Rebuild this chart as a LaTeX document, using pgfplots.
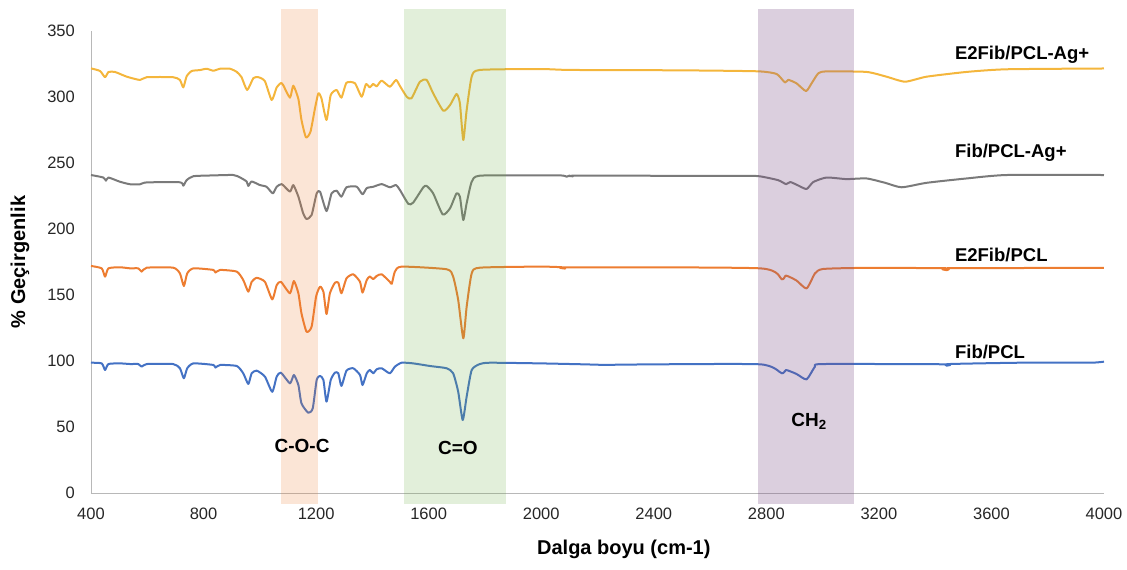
\documentclass[border=0pt]{standalone}
\usepackage{fontspec}
\setmainfont{Liberation Sans}
\usepackage{pgfplots}
\pgfplotsset{compat=1.18}
\definecolor{cBlue}{HTML}{4472C4}
\definecolor{cOrange}{HTML}{ED7D31}
\definecolor{cGray}{HTML}{7A7A7A}
\definecolor{cGold}{HTML}{F4B63C}
\definecolor{bOrange}{HTML}{ED7D31}
\definecolor{bGreen}{HTML}{70AD47}
\definecolor{bPurple}{HTML}{7B4F86}

\begin{document}
\begin{tikzpicture}
\begin{axis}[
  name=ax,
  scale only axis, width=1013bp, height=462bp,
  xmin=400, xmax=4000, ymin=0, ymax=350,
  clip=false,
  axis x line*=bottom, axis y line*=left,
  axis line style={draw=black!28, line width=0.8bp},
  major tick length=0pt,
  xtick={400,800,...,4000}, ytick={0,50,...,350},
  /pgf/number format/assume math mode=true,
  /pgf/number format/1000 sep={},
  tick label style={font=\fontsize{16.5bp}{20bp}\selectfont, text=black!85},
  xticklabel style={inner sep=0pt, yshift=-15bp},
  yticklabel style={inner sep=0pt, xshift=-16bp},
  xlabel={Dalga boyu (cm-1)},
  ylabel={\% Geçirgenlik},
  every axis x label/.style={at={(axis description cs:0.526,-0.123)}, anchor=center,
    font=\fontsize{20bp}{24bp}\selectfont\bfseries},
  every axis y label/.style={at={(axis description cs:-0.070,0.5)}, rotate=90, anchor=center,
    font=\fontsize{20bp}{24bp}\selectfont\bfseries},
  every axis plot/.append style={line width=2bp, line join=round, smooth, tension=0.35},
]
% Fib/PCL
\addplot[cBlue] coordinates {
(400,98.7)(438,98.2)(450,93.2)(462,97.7)(503,98.2)(539,97.7)(568,97.7)(580,95.7)(598,97.7)(692,97.7)(716,94.5)(730,86.9)(742,94.5)(764,98.2)(835,97)(842,95)(859,97)(918,96.2)(941,90.7)(959,82.6)(971,90.7)(989,92.7)(1018,88.2)(1044,76.7)(1060,88.2)(1075,91.2)(1107,83.1)(1121,89.4)(1137,81.8)(1148,67.9)(1172,60.8)(1188,64.1)(1202,85.6)(1214,88.7)(1226,85.6)(1237,69.2)(1252,85.6)(1267,91.2)(1279,90.7)(1290,81.1)(1308,92.7)(1332,94.5)(1356,89.4)(1365,81.8)(1380,90.7)(1391,93.2)(1403,90.7)(1415,93.7)(1433,94.5)(1462,90.7)(1480,95.7)(1504,98.7)(1545,98.2)(1605,96.2)(1664,94.5)(1687,90.7)(1705,76.7)(1721,55.3)(1735,73)(1753,93.2)(1782,97.7)(1818,98.7)(1996,98.2)(2147,97.5)(2236,97)(2307,97.3)(2777,97.5)(2855,90.7)(2870,93.2)(2907,90.2)(2943,86.1)(2973,95.7)(3001,97.7)(3435,97.5)(3441,96.5)(3450,97.7)(3701,98.7)(3950,98.7)(4000,99.5)};
% E2Fib/PCL
\addplot[cOrange] coordinates {
(400,172)(438,170.2)(450,163.9)(462,170.2)(503,171)(539,170.2)(568,170.2)(580,167.7)(598,170.7)(692,170.7)(716,166.4)(730,156.8)(742,166.4)(764,170.2)(835,169)(842,167)(859,169)(918,167.7)(941,161.4)(959,152.5)(971,160)(989,163)(1018,160)(1044,146.7)(1060,157.5)(1075,160)(1107,151.3)(1121,160.6)(1137,151.3)(1148,136.1)(1166,122.2)(1184,126)(1200,148.9)(1214,156.3)(1226,152.5)(1237,135.6)(1249,151.3)(1267,159.3)(1279,159.3)(1290,151.3)(1308,162.6)(1332,165.7)(1356,160)(1365,151.8)(1380,161.4)(1391,164)(1403,162)(1415,164.4)(1433,165.7)(1462,160)(1469,158.5)(1480,167.7)(1504,171.5)(1664,169.5)(1687,163.9)(1705,146.2)(1723,117.2)(1735,141.1)(1753,166.4)(1782,170.7)(1996,171.5)(2075,171)(2085,170)(2100,171)(2777,170.2)(2855,161.9)(2870,164.7)(2907,161)(2943,155)(2973,166.4)(3001,169.7)(3133,170.5)(3435,170.3)(3441,168.8)(3450,170.3)(4000,170.5)};
% Fib/PCL-Ag+
\addplot[cGray] coordinates {
(400,240.9)(444,239)(453,236.6)(462,239)(503,235.8)(539,233.9)(574,233.9)(598,235.3)(716,235.4)(728,232.8)(740,237)(764,240)(835,240.6)(906,240.9)(930,239)(953,236)(959,232.6)(971,236)(1000,233.3)(1024,232)(1046,227)(1060,232)(1078,234)(1107,228.3)(1119,233.3)(1137,224.5)(1154,211.9)(1166,207.6)(1184,210.6)(1202,227)(1214,228.3)(1237,213.6)(1255,227)(1273,229)(1290,224.5)(1308,231.6)(1344,232.1)(1365,226.3)(1380,231)(1403,232)(1433,234)(1462,231.6)(1484,233.3)(1498,229.5)(1528,219)(1545,220)(1581,231.6)(1593,232.6)(1616,227)(1650,211)(1676,215.7)(1699,227)(1711,224.5)(1723,206.8)(1735,219.5)(1753,235.8)(1782,240.4)(1996,240.6)(2077,240.5)(2090,239.6)(2100,240.4)(2113,239.9)(2130,240.4)(2717,240.2)(2777,239.9)(2842,237)(2870,234)(2885,235.6)(2913,233)(2943,230.3)(2967,235.6)(3014,239)(3085,237.8)(3156,238.3)(3222,235)(3281,231.6)(3370,235)(3512,238.3)(3654,240.9)(4000,240.9)};
% E2Fib/PCL-Ag+
\addplot[cGold] coordinates {
(400,321.7)(432,319.7)(450,315)(462,318.9)(485,319)(527,315.4)(574,312.9)(598,315)(692,315)(716,312.9)(728,307.3)(740,315.7)(758,319.7)(787,320.4)(811,321.4)(835,319.9)(858,321.4)(894,321.4)(918,319)(935,315)(955,305.3)(977,314.3)(995,315)(1018,312)(1042,297.7)(1060,307.3)(1075,310.6)(1083,309)(1107,299.5)(1119,308.6)(1137,298.5)(1148,282.6)(1164,269.4)(1180,273.7)(1196,291.4)(1208,302.8)(1219,299)(1237,282.6)(1252,301.5)(1273,305.3)(1290,299.5)(1308,310.8)(1338,310.4)(1362,300.2)(1377,309.8)(1391,307.3)(1403,310)(1415,308)(1433,312.4)(1462,307.8)(1484,312.9)(1498,308.3)(1522,300.2)(1539,299)(1569,311.6)(1593,312.9)(1616,302.8)(1652,289.6)(1676,293.9)(1699,302.3)(1711,295.2)(1723,267.4)(1735,290)(1753,315.4)(1782,320.5)(1996,321.2)(2100,320.5)(2400,320.3)(2600,320)(2777,319.4)(2837,317.4)(2866,311)(2878,313)(2907,310.4)(2941,304.5)(2961,310.4)(2985,318)(3014,319.4)(3156,319)(3227,315.4)(3293,311.6)(3370,315.4)(3512,319)(3654,321)(4000,321.6)};
% shaded bands, drawn over the spectra
\addplot[draw=none, fill=bOrange, fill opacity=0.2, sharp plot] coordinates {(1075,-8)(1207,-8)(1207,367)(1075,367)} --cycle;
\addplot[draw=none, fill=bGreen, fill opacity=0.2, sharp plot] coordinates {(1512,-8)(1875,-8)(1875,367)(1512,367)} --cycle;
\addplot[draw=none, fill=bPurple, fill opacity=0.27, sharp plot] coordinates {(2770,-8)(3111,-8)(3111,367)(2770,367)} --cycle;
% labels
\begin{scope}[every node/.style={font=\fontsize{18.5bp}{22bp}\selectfont\bfseries, inner sep=0pt, anchor=west}]
\node at (axis cs:3470,332) {E2Fib/PCL-Ag+};
\node at (axis cs:3470,257.6) {Fib/PCL-Ag+};
\node at (axis cs:3470,180) {E2Fib/PCL};
\node at (axis cs:3470,107) {Fib/PCL};
\end{scope}
\begin{scope}[every node/.style={font=\fontsize{19bp}{22bp}\selectfont\bfseries, inner sep=0pt}]
\node at (axis cs:1150,35.6) {C-O-C};
\node at (axis cs:1704,34) {C=O};
\node at (axis cs:2952,54) {CH\textsubscript{2}};
\end{scope}
\end{axis}
\pgfresetboundingbox
\path (ax.south west) ++(-91bp,-77bp) rectangle ++(1127bp,570bp);
\end{tikzpicture}
\end{document}
